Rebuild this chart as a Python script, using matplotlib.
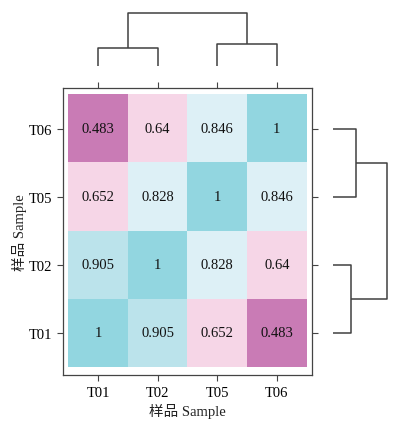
import numpy as np
import matplotlib
matplotlib.use('Agg')
import matplotlib.pyplot as plt
from matplotlib.colors import ListedColormap, BoundaryNorm

plt.rcParams['font.family'] = ['Liberation Serif', 'Noto Sans CJK SC']

# data
samples = ['T01', 'T02', 'T05', 'T06']
corr = np.array([
    [1.000, 0.905, 0.652, 0.483],
    [0.905, 1.000, 0.828, 0.640],
    [0.652, 0.828, 1.000, 0.846],
    [0.483, 0.640, 0.846, 1.000],
])
# dendrogram merges (left index, right index, height)
pair_a = (0, 1, 0.34)
pair_b = (2, 3, 0.42)
root_h = 1.0

bounds = [0.4, 0.55, 0.75, 0.87, 0.95, 1.01]
colours = ['#c97bb5', '#f6d6e7', '#ddf0f6', '#bbe3eb', '#92d6e0']
cmap = ListedColormap(colours)
norm = BoundaryNorm(bounds, cmap.N)

W, H = 396, 431
fig = plt.figure(figsize=(W / 100, H / 100), dpi=100)

def px_axes(x0, y0, x1, y1):
    return fig.add_axes([x0 / W, 1 - y1 / H, (x1 - x0) / W, (y1 - y0) / H])

frame_col = '#444444'
ax = px_axes(63.3, 89, 311.7, 376)
ax.imshow(corr, cmap=cmap, norm=norm, origin='lower', aspect='auto',
          extent=(-0.5, 3.5, -0.5, 3.5))
mx = 5 / 59.6
ax.set_xlim(-0.5 - mx, 3.5 + mx)
ax.set_ylim(-0.5 - 8 / 68.1, 3.5 + 6.7 / 68.1)
for i in range(4):
    for j in range(4):
        v = corr[i, j]
        s = '1' if v == 1 else ('%.3f' % v).rstrip('0')
        ax.text(j, i, s, ha='center', va='center', fontsize=10.5, color='#111111')
ax.set_xticks(range(4))
ax.set_yticks(range(4))
ax.set_xticklabels(samples)
ax.set_yticklabels(samples)
ax.tick_params(direction='out', length=4.5, width=0.8, color=frame_col,
               labelsize=10.5, top=True, right=True, pad=3.5)
for sp in ax.spines.values():
    sp.set_color(frame_col)
    sp.set_linewidth(0.9)
ax.set_xlabel('样品 Sample', fontsize=10.5, color='#222222', labelpad=3)
ax.set_ylabel('样品 Sample', fontsize=10.5, color='#222222', labelpad=1)

line_kw = dict(color='#404040', lw=1.1, clip_on=False, solid_capstyle='butt')

def draw_dendro(d, horizontal):
    def seg(xs, ys):
        if horizontal:
            d.plot(ys, xs, **line_kw)
        else:
            d.plot(xs, ys, **line_kw)
    mids = []
    for a, b, h in (pair_a, pair_b):
        seg([a, a, b, b], [0, h, h, 0])
        mids.append(((a + b) / 2, h))
    (m1, h1), (m2, h2) = mids
    seg([m1, m1, m2, m2], [h1, root_h, root_h, h2])
    d.axis('off')

# top dendrogram
dt = px_axes(63.3, 14, 311.7, 67)
draw_dendro(dt, False)
dt.set_xlim(ax.get_xlim())
dt.set_ylim(0, root_h)

# right dendrogram
dr = px_axes(333, 89, 387, 376)
draw_dendro(dr, True)
dr.set_ylim(ax.get_ylim())
dr.set_xlim(0, root_h)

fig.savefig('out.png', dpi=100)
